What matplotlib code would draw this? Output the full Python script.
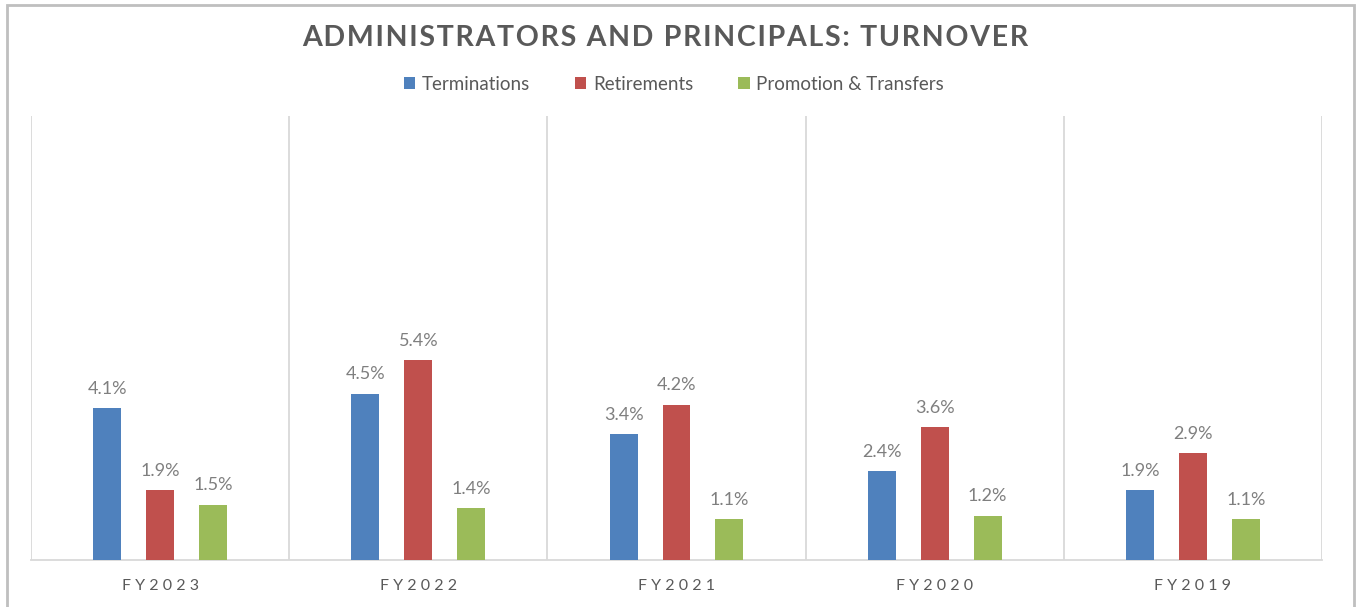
import matplotlib
matplotlib.use("Agg")
import matplotlib.pyplot as plt
import numpy as np
from matplotlib.patches import Rectangle

years = ["FY2023", "FY2022", "FY2021", "FY2020", "FY2019"]
series = ["Terminations", "Retirements", "Promotion & Transfers"]
terminations = [4.1, 4.5, 3.4, 2.4, 1.9]
retirements = [1.9, 5.4, 4.2, 3.6, 2.9]
promotions = [1.5, 1.4, 1.1, 1.2, 1.1]
colors = ["#4F81BD", "#C0504D", "#9BBB59"]

FAM = ["Lato", "DejaVu Sans"]
HS = "\u200a"


def spaced(s, sep=HS):
    return sep.join(s)


W, H = 1362, 607
fig = plt.figure(figsize=(W / 100, H / 100), dpi=100)
ax = fig.add_axes([31 / W, 1 - 560 / H, (1322 - 31) / W, (560 - 116) / H])

x = np.arange(len(years))
width = 0.108
offsets = [-0.205, 0.0, 0.205]
for vals, off, col, name in zip([terminations, retirements, promotions], offsets, colors, series):
    bars = ax.bar(x + off, vals, width, color=col, label=name, zorder=3)
    for b, v in zip(bars, vals):
        ax.annotate(f"{v:.1f}%", (b.get_x() + b.get_width() / 2, v),
                    xytext=(0, 8), textcoords="offset points", ha="center", va="bottom",
                    fontsize=13, color="#7f7f7f", family=FAM)

ax.set_xlim(-0.5, len(years) - 0.5)
ax.set_ylim(0, 12)
ax.set_yticks([])
ax.set_xticks(x)
ax.set_xticklabels([spaced(y, " ") for y in years], fontsize=11.5, color="#595959", family=FAM)
ax.tick_params(axis="x", length=0, pad=14)
for b in np.arange(-0.5, len(years), 1.0):
    ax.axvline(b, color="#d9d9d9", lw=1.3, zorder=1)
for s in ["top", "right", "left"]:
    ax.spines[s].set_visible(False)
ax.spines["bottom"].set_color("#d9d9d9")
ax.spines["bottom"].set_linewidth(1.3)

fig.text(665 / W, 1 - 38 / H, spaced("ADMINISTRATORS AND PRINCIPALS: TURNOVER"),
         ha="center", va="center", fontsize=20.5, fontweight="bold", color="#595959", family=FAM)

fig.legend(loc="center", bbox_to_anchor=(674 / W, 1 - 84 / H), ncol=3, frameon=False,
           prop={"family": FAM, "size": 13.5}, labelcolor="#595959",
           handlelength=0.6, handleheight=0.6, handletextpad=0.35, columnspacing=2.4)

fig.add_artist(Rectangle((7 / W, -0.1), (1354 - 7) / W, 1.1 - 5 / H, transform=fig.transFigure,
                         fill=False, edgecolor="#bfbfbf", lw=2, clip_on=False))

fig.savefig("out.png", dpi=100)
